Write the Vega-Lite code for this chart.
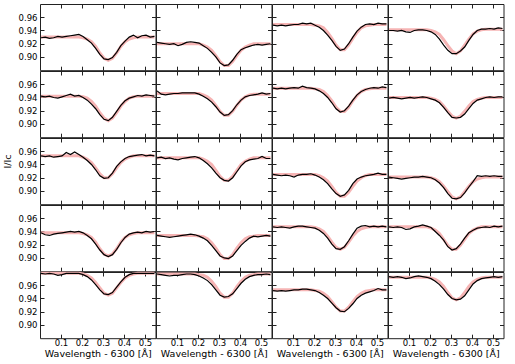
{
"$schema":"https://vega.github.io/schema/vega-lite/v6.json",
"background":"white",
"padding":{"left":1,"top":3,"right":5,"bottom":5},
"spacing":0,
"bounds":"flush",
"columns":4,
"data":{"values":[
{"p":11,"x":0.005,"o":0.929,"f":0.930},{"p":11,"x":0.025,"o":0.930,"f":0.930},{"p":11,"x":0.045,"o":0.928,"f":0.930},{"p":11,"x":0.065,"o":0.929,"f":0.930},{"p":11,"x":0.085,"o":0.931,"f":0.930},{"p":11,"x":0.105,"o":0.930,"f":0.930},{"p":11,"x":0.125,"o":0.931,"f":0.930},{"p":11,"x":0.145,"o":0.932,"f":0.930},{"p":11,"x":0.165,"o":0.933,"f":0.930},{"p":11,"x":0.185,"o":0.934,"f":0.930},{"p":11,"x":0.205,"o":0.931,"f":0.929},{"p":11,"x":0.225,"o":0.926,"f":0.927},{"p":11,"x":0.245,"o":0.921,"f":0.923},{"p":11,"x":0.265,"o":0.913,"f":0.916},{"p":11,"x":0.285,"o":0.904,"f":0.906},{"p":11,"x":0.305,"o":0.897,"f":0.898},{"p":11,"x":0.325,"o":0.896,"f":0.895},{"p":11,"x":0.345,"o":0.899,"f":0.898},{"p":11,"x":0.365,"o":0.907,"f":0.906},{"p":11,"x":0.385,"o":0.917,"f":0.916},{"p":11,"x":0.405,"o":0.924,"f":0.923},{"p":11,"x":0.425,"o":0.930,"f":0.927},{"p":11,"x":0.445,"o":0.933,"f":0.929},{"p":11,"x":0.465,"o":0.929,"f":0.930},{"p":11,"x":0.485,"o":0.932,"f":0.930},{"p":11,"x":0.505,"o":0.933,"f":0.930},{"p":11,"x":0.525,"o":0.930,"f":0.930},{"p":11,"x":0.545,"o":0.931,"f":0.930},
{"p":12,"x":0.005,"o":0.922,"f":0.920},{"p":12,"x":0.025,"o":0.921,"f":0.920},{"p":12,"x":0.045,"o":0.920,"f":0.920},{"p":12,"x":0.065,"o":0.919,"f":0.920},{"p":12,"x":0.085,"o":0.920,"f":0.920},{"p":12,"x":0.105,"o":0.917,"f":0.920},{"p":12,"x":0.125,"o":0.919,"f":0.920},{"p":12,"x":0.145,"o":0.922,"f":0.920},{"p":12,"x":0.165,"o":0.923,"f":0.920},{"p":12,"x":0.185,"o":0.922,"f":0.920},{"p":12,"x":0.205,"o":0.921,"f":0.920},{"p":12,"x":0.225,"o":0.917,"f":0.918},{"p":12,"x":0.245,"o":0.913,"f":0.915},{"p":12,"x":0.265,"o":0.907,"f":0.910},{"p":12,"x":0.285,"o":0.900,"f":0.902},{"p":12,"x":0.305,"o":0.891,"f":0.893},{"p":12,"x":0.325,"o":0.887,"f":0.887},{"p":12,"x":0.345,"o":0.888,"f":0.887},{"p":12,"x":0.365,"o":0.895,"f":0.893},{"p":12,"x":0.385,"o":0.904,"f":0.902},{"p":12,"x":0.405,"o":0.911,"f":0.910},{"p":12,"x":0.425,"o":0.914,"f":0.915},{"p":12,"x":0.445,"o":0.916,"f":0.918},{"p":12,"x":0.465,"o":0.918,"f":0.920},{"p":12,"x":0.485,"o":0.919,"f":0.920},{"p":12,"x":0.505,"o":0.918,"f":0.920},{"p":12,"x":0.525,"o":0.919,"f":0.920},{"p":12,"x":0.545,"o":0.920,"f":0.920},
{"p":13,"x":0.005,"o":0.948,"f":0.949},{"p":13,"x":0.025,"o":0.947,"f":0.949},{"p":13,"x":0.045,"o":0.948,"f":0.949},{"p":13,"x":0.065,"o":0.947,"f":0.949},{"p":13,"x":0.085,"o":0.948,"f":0.949},{"p":13,"x":0.105,"o":0.949,"f":0.949},{"p":13,"x":0.125,"o":0.949,"f":0.949},{"p":13,"x":0.145,"o":0.951,"f":0.949},{"p":13,"x":0.165,"o":0.950,"f":0.949},{"p":13,"x":0.185,"o":0.951,"f":0.949},{"p":13,"x":0.205,"o":0.948,"f":0.948},{"p":13,"x":0.225,"o":0.945,"f":0.947},{"p":13,"x":0.245,"o":0.940,"f":0.944},{"p":13,"x":0.265,"o":0.933,"f":0.937},{"p":13,"x":0.285,"o":0.925,"f":0.928},{"p":13,"x":0.305,"o":0.916,"f":0.918},{"p":13,"x":0.325,"o":0.910,"f":0.911},{"p":13,"x":0.345,"o":0.912,"f":0.911},{"p":13,"x":0.365,"o":0.920,"f":0.918},{"p":13,"x":0.385,"o":0.930,"f":0.928},{"p":13,"x":0.405,"o":0.939,"f":0.937},{"p":13,"x":0.425,"o":0.945,"f":0.944},{"p":13,"x":0.445,"o":0.949,"f":0.947},{"p":13,"x":0.465,"o":0.950,"f":0.948},{"p":13,"x":0.485,"o":0.949,"f":0.949},{"p":13,"x":0.505,"o":0.951,"f":0.949},{"p":13,"x":0.525,"o":0.950,"f":0.949},{"p":13,"x":0.545,"o":0.950,"f":0.949},
{"p":14,"x":0.005,"o":0.940,"f":0.941},{"p":14,"x":0.025,"o":0.940,"f":0.941},{"p":14,"x":0.045,"o":0.939,"f":0.941},{"p":14,"x":0.065,"o":0.940,"f":0.941},{"p":14,"x":0.085,"o":0.938,"f":0.941},{"p":14,"x":0.105,"o":0.937,"f":0.941},{"p":14,"x":0.125,"o":0.940,"f":0.941},{"p":14,"x":0.145,"o":0.941,"f":0.941},{"p":14,"x":0.165,"o":0.941,"f":0.941},{"p":14,"x":0.185,"o":0.940,"f":0.941},{"p":14,"x":0.205,"o":0.938,"f":0.940},{"p":14,"x":0.225,"o":0.934,"f":0.938},{"p":14,"x":0.245,"o":0.927,"f":0.934},{"p":14,"x":0.265,"o":0.918,"f":0.926},{"p":14,"x":0.285,"o":0.910,"f":0.917},{"p":14,"x":0.305,"o":0.905,"f":0.909},{"p":14,"x":0.325,"o":0.905,"f":0.905},{"p":14,"x":0.345,"o":0.909,"f":0.909},{"p":14,"x":0.365,"o":0.915,"f":0.918},{"p":14,"x":0.385,"o":0.925,"f":0.927},{"p":14,"x":0.405,"o":0.934,"f":0.935},{"p":14,"x":0.425,"o":0.940,"f":0.939},{"p":14,"x":0.445,"o":0.942,"f":0.941},{"p":14,"x":0.465,"o":0.942,"f":0.942},{"p":14,"x":0.485,"o":0.943,"f":0.942},{"p":14,"x":0.505,"o":0.942,"f":0.942},{"p":14,"x":0.525,"o":0.944,"f":0.942},{"p":14,"x":0.545,"o":0.943,"f":0.942},
{"p":21,"x":0.005,"o":0.942,"f":0.942},{"p":21,"x":0.025,"o":0.941,"f":0.942},{"p":21,"x":0.045,"o":0.942,"f":0.942},{"p":21,"x":0.065,"o":0.940,"f":0.942},{"p":21,"x":0.085,"o":0.939,"f":0.942},{"p":21,"x":0.105,"o":0.941,"f":0.942},{"p":21,"x":0.125,"o":0.943,"f":0.942},{"p":21,"x":0.145,"o":0.945,"f":0.942},{"p":21,"x":0.165,"o":0.942,"f":0.942},{"p":21,"x":0.185,"o":0.943,"f":0.942},{"p":21,"x":0.205,"o":0.940,"f":0.941},{"p":21,"x":0.225,"o":0.936,"f":0.939},{"p":21,"x":0.245,"o":0.930,"f":0.934},{"p":21,"x":0.265,"o":0.923,"f":0.927},{"p":21,"x":0.285,"o":0.914,"f":0.917},{"p":21,"x":0.305,"o":0.907,"f":0.909},{"p":21,"x":0.325,"o":0.905,"f":0.905},{"p":21,"x":0.345,"o":0.910,"f":0.909},{"p":21,"x":0.365,"o":0.919,"f":0.917},{"p":21,"x":0.385,"o":0.928,"f":0.927},{"p":21,"x":0.405,"o":0.935,"f":0.934},{"p":21,"x":0.425,"o":0.939,"f":0.939},{"p":21,"x":0.445,"o":0.941,"f":0.941},{"p":21,"x":0.465,"o":0.943,"f":0.942},{"p":21,"x":0.485,"o":0.942,"f":0.942},{"p":21,"x":0.505,"o":0.944,"f":0.942},{"p":21,"x":0.525,"o":0.943,"f":0.942},{"p":21,"x":0.545,"o":0.942,"f":0.942},
{"p":22,"x":0.005,"o":0.950,"f":0.946},{"p":22,"x":0.025,"o":0.945,"f":0.946},{"p":22,"x":0.045,"o":0.944,"f":0.946},{"p":22,"x":0.065,"o":0.945,"f":0.946},{"p":22,"x":0.085,"o":0.946,"f":0.946},{"p":22,"x":0.105,"o":0.946,"f":0.946},{"p":22,"x":0.125,"o":0.947,"f":0.946},{"p":22,"x":0.145,"o":0.947,"f":0.946},{"p":22,"x":0.165,"o":0.947,"f":0.946},{"p":22,"x":0.185,"o":0.947,"f":0.946},{"p":22,"x":0.205,"o":0.945,"f":0.946},{"p":22,"x":0.225,"o":0.942,"f":0.944},{"p":22,"x":0.245,"o":0.938,"f":0.941},{"p":22,"x":0.265,"o":0.933,"f":0.936},{"p":22,"x":0.285,"o":0.926,"f":0.928},{"p":22,"x":0.305,"o":0.918,"f":0.919},{"p":22,"x":0.325,"o":0.913,"f":0.913},{"p":22,"x":0.345,"o":0.914,"f":0.913},{"p":22,"x":0.365,"o":0.920,"f":0.919},{"p":22,"x":0.385,"o":0.929,"f":0.928},{"p":22,"x":0.405,"o":0.936,"f":0.936},{"p":22,"x":0.425,"o":0.941,"f":0.941},{"p":22,"x":0.445,"o":0.943,"f":0.944},{"p":22,"x":0.465,"o":0.944,"f":0.945},{"p":22,"x":0.485,"o":0.945,"f":0.945},{"p":22,"x":0.505,"o":0.947,"f":0.945},{"p":22,"x":0.525,"o":0.945,"f":0.945},{"p":22,"x":0.545,"o":0.946,"f":0.945},
{"p":23,"x":0.005,"o":0.954,"f":0.954},{"p":23,"x":0.025,"o":0.953,"f":0.954},{"p":23,"x":0.045,"o":0.954,"f":0.954},{"p":23,"x":0.065,"o":0.953,"f":0.954},{"p":23,"x":0.085,"o":0.954,"f":0.954},{"p":23,"x":0.105,"o":0.955,"f":0.954},{"p":23,"x":0.125,"o":0.954,"f":0.954},{"p":23,"x":0.145,"o":0.957,"f":0.954},{"p":23,"x":0.165,"o":0.955,"f":0.954},{"p":23,"x":0.185,"o":0.954,"f":0.954},{"p":23,"x":0.205,"o":0.953,"f":0.953},{"p":23,"x":0.225,"o":0.950,"f":0.952},{"p":23,"x":0.245,"o":0.946,"f":0.949},{"p":23,"x":0.265,"o":0.940,"f":0.943},{"p":23,"x":0.285,"o":0.932,"f":0.935},{"p":23,"x":0.305,"o":0.923,"f":0.925},{"p":23,"x":0.325,"o":0.918,"f":0.919},{"p":23,"x":0.345,"o":0.920,"f":0.919},{"p":23,"x":0.365,"o":0.927,"f":0.925},{"p":23,"x":0.385,"o":0.936,"f":0.935},{"p":23,"x":0.405,"o":0.944,"f":0.943},{"p":23,"x":0.425,"o":0.949,"f":0.949},{"p":23,"x":0.445,"o":0.952,"f":0.952},{"p":23,"x":0.465,"o":0.954,"f":0.953},{"p":23,"x":0.485,"o":0.955,"f":0.954},{"p":23,"x":0.505,"o":0.954,"f":0.954},{"p":23,"x":0.525,"o":0.956,"f":0.954},{"p":23,"x":0.545,"o":0.955,"f":0.954},
{"p":24,"x":0.005,"o":0.939,"f":0.940},{"p":24,"x":0.025,"o":0.940,"f":0.940},{"p":24,"x":0.045,"o":0.939,"f":0.940},{"p":24,"x":0.065,"o":0.938,"f":0.940},{"p":24,"x":0.085,"o":0.939,"f":0.940},{"p":24,"x":0.105,"o":0.940,"f":0.940},{"p":24,"x":0.125,"o":0.939,"f":0.940},{"p":24,"x":0.145,"o":0.940,"f":0.940},{"p":24,"x":0.165,"o":0.941,"f":0.940},{"p":24,"x":0.185,"o":0.940,"f":0.940},{"p":24,"x":0.205,"o":0.938,"f":0.939},{"p":24,"x":0.225,"o":0.936,"f":0.937},{"p":24,"x":0.245,"o":0.932,"f":0.934},{"p":24,"x":0.265,"o":0.925,"f":0.927},{"p":24,"x":0.285,"o":0.917,"f":0.919},{"p":24,"x":0.305,"o":0.910,"f":0.912},{"p":24,"x":0.325,"o":0.909,"f":0.909},{"p":24,"x":0.345,"o":0.910,"f":0.912},{"p":24,"x":0.365,"o":0.915,"f":0.919},{"p":24,"x":0.385,"o":0.923,"f":0.927},{"p":24,"x":0.405,"o":0.931,"f":0.934},{"p":24,"x":0.425,"o":0.936,"f":0.937},{"p":24,"x":0.445,"o":0.938,"f":0.939},{"p":24,"x":0.465,"o":0.940,"f":0.940},{"p":24,"x":0.485,"o":0.941,"f":0.940},{"p":24,"x":0.505,"o":0.940,"f":0.940},{"p":24,"x":0.525,"o":0.941,"f":0.940},{"p":24,"x":0.545,"o":0.941,"f":0.940},
{"p":31,"x":0.005,"o":0.953,"f":0.953},{"p":31,"x":0.025,"o":0.952,"f":0.953},{"p":31,"x":0.045,"o":0.953,"f":0.953},{"p":31,"x":0.065,"o":0.951,"f":0.953},{"p":31,"x":0.085,"o":0.952,"f":0.953},{"p":31,"x":0.105,"o":0.953,"f":0.953},{"p":31,"x":0.125,"o":0.958,"f":0.953},{"p":31,"x":0.145,"o":0.955,"f":0.953},{"p":31,"x":0.165,"o":0.959,"f":0.953},{"p":31,"x":0.185,"o":0.955,"f":0.953},{"p":31,"x":0.205,"o":0.951,"f":0.951},{"p":31,"x":0.225,"o":0.946,"f":0.948},{"p":31,"x":0.245,"o":0.940,"f":0.943},{"p":31,"x":0.265,"o":0.932,"f":0.935},{"p":31,"x":0.285,"o":0.923,"f":0.926},{"p":31,"x":0.305,"o":0.919,"f":0.920},{"p":31,"x":0.325,"o":0.920,"f":0.920},{"p":31,"x":0.345,"o":0.927,"f":0.926},{"p":31,"x":0.365,"o":0.937,"f":0.935},{"p":31,"x":0.385,"o":0.944,"f":0.943},{"p":31,"x":0.405,"o":0.949,"f":0.948},{"p":31,"x":0.425,"o":0.952,"f":0.951},{"p":31,"x":0.445,"o":0.953,"f":0.953},{"p":31,"x":0.465,"o":0.954,"f":0.953},{"p":31,"x":0.485,"o":0.955,"f":0.953},{"p":31,"x":0.505,"o":0.953,"f":0.953},{"p":31,"x":0.525,"o":0.954,"f":0.953},{"p":31,"x":0.545,"o":0.953,"f":0.953},
{"p":32,"x":0.005,"o":0.950,"f":0.950},{"p":32,"x":0.025,"o":0.951,"f":0.950},{"p":32,"x":0.045,"o":0.949,"f":0.950},{"p":32,"x":0.065,"o":0.950,"f":0.950},{"p":32,"x":0.085,"o":0.948,"f":0.950},{"p":32,"x":0.105,"o":0.947,"f":0.950},{"p":32,"x":0.125,"o":0.949,"f":0.950},{"p":32,"x":0.145,"o":0.950,"f":0.950},{"p":32,"x":0.165,"o":0.951,"f":0.950},{"p":32,"x":0.185,"o":0.952,"f":0.950},{"p":32,"x":0.205,"o":0.950,"f":0.950},{"p":32,"x":0.225,"o":0.946,"f":0.948},{"p":32,"x":0.245,"o":0.941,"f":0.945},{"p":32,"x":0.265,"o":0.935,"f":0.940},{"p":32,"x":0.285,"o":0.927,"f":0.931},{"p":32,"x":0.305,"o":0.920,"f":0.922},{"p":32,"x":0.325,"o":0.916,"f":0.916},{"p":32,"x":0.345,"o":0.915,"f":0.916},{"p":32,"x":0.365,"o":0.920,"f":0.922},{"p":32,"x":0.385,"o":0.929,"f":0.931},{"p":32,"x":0.405,"o":0.938,"f":0.940},{"p":32,"x":0.425,"o":0.944,"f":0.945},{"p":32,"x":0.445,"o":0.947,"f":0.948},{"p":32,"x":0.465,"o":0.948,"f":0.950},{"p":32,"x":0.485,"o":0.949,"f":0.950},{"p":32,"x":0.505,"o":0.952,"f":0.950},{"p":32,"x":0.525,"o":0.949,"f":0.950},{"p":32,"x":0.545,"o":0.949,"f":0.950},
{"p":33,"x":0.005,"o":0.925,"f":0.925},{"p":33,"x":0.025,"o":0.924,"f":0.925},{"p":33,"x":0.045,"o":0.923,"f":0.925},{"p":33,"x":0.065,"o":0.924,"f":0.925},{"p":33,"x":0.085,"o":0.923,"f":0.925},{"p":33,"x":0.105,"o":0.921,"f":0.925},{"p":33,"x":0.125,"o":0.924,"f":0.925},{"p":33,"x":0.145,"o":0.925,"f":0.925},{"p":33,"x":0.165,"o":0.925,"f":0.925},{"p":33,"x":0.185,"o":0.926,"f":0.925},{"p":33,"x":0.205,"o":0.924,"f":0.925},{"p":33,"x":0.225,"o":0.921,"f":0.923},{"p":33,"x":0.245,"o":0.917,"f":0.920},{"p":33,"x":0.265,"o":0.911,"f":0.915},{"p":33,"x":0.285,"o":0.903,"f":0.907},{"p":33,"x":0.305,"o":0.896,"f":0.898},{"p":33,"x":0.325,"o":0.892,"f":0.892},{"p":33,"x":0.345,"o":0.894,"f":0.892},{"p":33,"x":0.365,"o":0.901,"f":0.898},{"p":33,"x":0.385,"o":0.911,"f":0.907},{"p":33,"x":0.405,"o":0.918,"f":0.915},{"p":33,"x":0.425,"o":0.921,"f":0.920},{"p":33,"x":0.445,"o":0.923,"f":0.923},{"p":33,"x":0.465,"o":0.924,"f":0.925},{"p":33,"x":0.485,"o":0.925,"f":0.925},{"p":33,"x":0.505,"o":0.927,"f":0.925},{"p":33,"x":0.525,"o":0.925,"f":0.925},{"p":33,"x":0.545,"o":0.925,"f":0.925},
{"p":34,"x":0.005,"o":0.921,"f":0.921},{"p":34,"x":0.025,"o":0.920,"f":0.921},{"p":34,"x":0.045,"o":0.919,"f":0.921},{"p":34,"x":0.065,"o":0.918,"f":0.921},{"p":34,"x":0.085,"o":0.919,"f":0.921},{"p":34,"x":0.105,"o":0.920,"f":0.921},{"p":34,"x":0.125,"o":0.921,"f":0.921},{"p":34,"x":0.145,"o":0.921,"f":0.921},{"p":34,"x":0.165,"o":0.922,"f":0.921},{"p":34,"x":0.185,"o":0.921,"f":0.921},{"p":34,"x":0.205,"o":0.920,"f":0.920},{"p":34,"x":0.225,"o":0.917,"f":0.918},{"p":34,"x":0.245,"o":0.912,"f":0.914},{"p":34,"x":0.265,"o":0.905,"f":0.907},{"p":34,"x":0.285,"o":0.896,"f":0.899},{"p":34,"x":0.305,"o":0.889,"f":0.891},{"p":34,"x":0.325,"o":0.888,"f":0.888},{"p":34,"x":0.345,"o":0.890,"f":0.891},{"p":34,"x":0.365,"o":0.897,"f":0.899},{"p":34,"x":0.385,"o":0.906,"f":0.907},{"p":34,"x":0.405,"o":0.914,"f":0.914},{"p":34,"x":0.425,"o":0.923,"f":0.918},{"p":34,"x":0.445,"o":0.922,"f":0.920},{"p":34,"x":0.465,"o":0.923,"f":0.921},{"p":34,"x":0.485,"o":0.922,"f":0.921},{"p":34,"x":0.505,"o":0.923,"f":0.921},{"p":34,"x":0.525,"o":0.922,"f":0.921},{"p":34,"x":0.545,"o":0.922,"f":0.921},
{"p":41,"x":0.005,"o":0.938,"f":0.938},{"p":41,"x":0.025,"o":0.935,"f":0.938},{"p":41,"x":0.045,"o":0.934,"f":0.938},{"p":41,"x":0.065,"o":0.936,"f":0.938},{"p":41,"x":0.085,"o":0.937,"f":0.938},{"p":41,"x":0.105,"o":0.938,"f":0.938},{"p":41,"x":0.125,"o":0.939,"f":0.938},{"p":41,"x":0.145,"o":0.940,"f":0.938},{"p":41,"x":0.165,"o":0.939,"f":0.938},{"p":41,"x":0.185,"o":0.940,"f":0.938},{"p":41,"x":0.205,"o":0.938,"f":0.937},{"p":41,"x":0.225,"o":0.934,"f":0.935},{"p":41,"x":0.245,"o":0.929,"f":0.931},{"p":41,"x":0.265,"o":0.921,"f":0.924},{"p":41,"x":0.285,"o":0.912,"f":0.914},{"p":41,"x":0.305,"o":0.905,"f":0.906},{"p":41,"x":0.325,"o":0.902,"f":0.903},{"p":41,"x":0.345,"o":0.905,"f":0.906},{"p":41,"x":0.365,"o":0.913,"f":0.914},{"p":41,"x":0.385,"o":0.923,"f":0.924},{"p":41,"x":0.405,"o":0.931,"f":0.931},{"p":41,"x":0.425,"o":0.936,"f":0.935},{"p":41,"x":0.445,"o":0.938,"f":0.937},{"p":41,"x":0.465,"o":0.939,"f":0.938},{"p":41,"x":0.485,"o":0.938,"f":0.938},{"p":41,"x":0.505,"o":0.940,"f":0.938},{"p":41,"x":0.525,"o":0.939,"f":0.938},{"p":41,"x":0.545,"o":0.940,"f":0.938},
{"p":42,"x":0.005,"o":0.934,"f":0.934},{"p":42,"x":0.025,"o":0.933,"f":0.934},{"p":42,"x":0.045,"o":0.932,"f":0.934},{"p":42,"x":0.065,"o":0.931,"f":0.934},{"p":42,"x":0.085,"o":0.932,"f":0.934},{"p":42,"x":0.105,"o":0.933,"f":0.934},{"p":42,"x":0.125,"o":0.934,"f":0.934},{"p":42,"x":0.145,"o":0.935,"f":0.934},{"p":42,"x":0.165,"o":0.936,"f":0.934},{"p":42,"x":0.185,"o":0.935,"f":0.934},{"p":42,"x":0.205,"o":0.933,"f":0.933},{"p":42,"x":0.225,"o":0.930,"f":0.932},{"p":42,"x":0.245,"o":0.926,"f":0.929},{"p":42,"x":0.265,"o":0.919,"f":0.923},{"p":42,"x":0.285,"o":0.911,"f":0.915},{"p":42,"x":0.305,"o":0.903,"f":0.905},{"p":42,"x":0.325,"o":0.900,"f":0.899},{"p":42,"x":0.345,"o":0.899,"f":0.899},{"p":42,"x":0.365,"o":0.903,"f":0.905},{"p":42,"x":0.385,"o":0.911,"f":0.915},{"p":42,"x":0.405,"o":0.919,"f":0.923},{"p":42,"x":0.425,"o":0.925,"f":0.929},{"p":42,"x":0.445,"o":0.930,"f":0.932},{"p":42,"x":0.465,"o":0.933,"f":0.933},{"p":42,"x":0.485,"o":0.932,"f":0.934},{"p":42,"x":0.505,"o":0.933,"f":0.934},{"p":42,"x":0.525,"o":0.934,"f":0.934},{"p":42,"x":0.545,"o":0.933,"f":0.934},
{"p":43,"x":0.005,"o":0.947,"f":0.947},{"p":43,"x":0.025,"o":0.946,"f":0.947},{"p":43,"x":0.045,"o":0.947,"f":0.947},{"p":43,"x":0.065,"o":0.946,"f":0.947},{"p":43,"x":0.085,"o":0.945,"f":0.947},{"p":43,"x":0.105,"o":0.947,"f":0.947},{"p":43,"x":0.125,"o":0.948,"f":0.947},{"p":43,"x":0.145,"o":0.948,"f":0.947},{"p":43,"x":0.165,"o":0.947,"f":0.947},{"p":43,"x":0.185,"o":0.946,"f":0.947},{"p":43,"x":0.205,"o":0.945,"f":0.946},{"p":43,"x":0.225,"o":0.942,"f":0.944},{"p":43,"x":0.245,"o":0.937,"f":0.940},{"p":43,"x":0.265,"o":0.930,"f":0.933},{"p":43,"x":0.285,"o":0.921,"f":0.924},{"p":43,"x":0.305,"o":0.914,"f":0.916},{"p":43,"x":0.325,"o":0.913,"f":0.913},{"p":43,"x":0.345,"o":0.917,"f":0.916},{"p":43,"x":0.365,"o":0.926,"f":0.924},{"p":43,"x":0.385,"o":0.936,"f":0.933},{"p":43,"x":0.405,"o":0.945,"f":0.940},{"p":43,"x":0.425,"o":0.948,"f":0.944},{"p":43,"x":0.445,"o":0.949,"f":0.946},{"p":43,"x":0.465,"o":0.947,"f":0.947},{"p":43,"x":0.485,"o":0.948,"f":0.947},{"p":43,"x":0.505,"o":0.947,"f":0.947},{"p":43,"x":0.525,"o":0.948,"f":0.947},{"p":43,"x":0.545,"o":0.947,"f":0.947},
{"p":44,"x":0.005,"o":0.947,"f":0.947},{"p":44,"x":0.025,"o":0.946,"f":0.947},{"p":44,"x":0.045,"o":0.947,"f":0.947},{"p":44,"x":0.065,"o":0.946,"f":0.947},{"p":44,"x":0.085,"o":0.943,"f":0.947},{"p":44,"x":0.105,"o":0.944,"f":0.947},{"p":44,"x":0.125,"o":0.947,"f":0.947},{"p":44,"x":0.145,"o":0.948,"f":0.947},{"p":44,"x":0.165,"o":0.950,"f":0.947},{"p":44,"x":0.185,"o":0.948,"f":0.947},{"p":44,"x":0.205,"o":0.946,"f":0.945},{"p":44,"x":0.225,"o":0.940,"f":0.942},{"p":44,"x":0.245,"o":0.934,"f":0.937},{"p":44,"x":0.265,"o":0.927,"f":0.928},{"p":44,"x":0.285,"o":0.917,"f":0.919},{"p":44,"x":0.305,"o":0.912,"f":0.913},{"p":44,"x":0.325,"o":0.914,"f":0.913},{"p":44,"x":0.345,"o":0.921,"f":0.919},{"p":44,"x":0.365,"o":0.930,"f":0.928},{"p":44,"x":0.385,"o":0.938,"f":0.937},{"p":44,"x":0.405,"o":0.942,"f":0.942},{"p":44,"x":0.425,"o":0.945,"f":0.945},{"p":44,"x":0.445,"o":0.946,"f":0.947},{"p":44,"x":0.465,"o":0.947,"f":0.947},{"p":44,"x":0.485,"o":0.946,"f":0.947},{"p":44,"x":0.505,"o":0.948,"f":0.947},{"p":44,"x":0.525,"o":0.947,"f":0.947},{"p":44,"x":0.545,"o":0.948,"f":0.947},
{"p":51,"x":0.005,"o":0.978,"f":0.978},{"p":51,"x":0.025,"o":0.977,"f":0.978},{"p":51,"x":0.045,"o":0.978,"f":0.978},{"p":51,"x":0.065,"o":0.977,"f":0.978},{"p":51,"x":0.085,"o":0.975,"f":0.978},{"p":51,"x":0.105,"o":0.976,"f":0.978},{"p":51,"x":0.125,"o":0.978,"f":0.978},{"p":51,"x":0.145,"o":0.978,"f":0.978},{"p":51,"x":0.165,"o":0.978,"f":0.978},{"p":51,"x":0.185,"o":0.978,"f":0.978},{"p":51,"x":0.205,"o":0.976,"f":0.977},{"p":51,"x":0.225,"o":0.973,"f":0.975},{"p":51,"x":0.245,"o":0.968,"f":0.971},{"p":51,"x":0.265,"o":0.961,"f":0.964},{"p":51,"x":0.285,"o":0.953,"f":0.956},{"p":51,"x":0.305,"o":0.947,"f":0.948},{"p":51,"x":0.325,"o":0.946,"f":0.945},{"p":51,"x":0.345,"o":0.949,"f":0.948},{"p":51,"x":0.365,"o":0.957,"f":0.956},{"p":51,"x":0.385,"o":0.965,"f":0.964},{"p":51,"x":0.405,"o":0.972,"f":0.971},{"p":51,"x":0.425,"o":0.976,"f":0.975},{"p":51,"x":0.445,"o":0.978,"f":0.977},{"p":51,"x":0.465,"o":0.978,"f":0.978},{"p":51,"x":0.485,"o":0.978,"f":0.978},{"p":51,"x":0.505,"o":0.978,"f":0.978},{"p":51,"x":0.525,"o":0.978,"f":0.978},{"p":51,"x":0.545,"o":0.978,"f":0.978},
{"p":52,"x":0.005,"o":0.977,"f":0.977},{"p":52,"x":0.025,"o":0.976,"f":0.977},{"p":52,"x":0.045,"o":0.975,"f":0.977},{"p":52,"x":0.065,"o":0.974,"f":0.977},{"p":52,"x":0.085,"o":0.975,"f":0.977},{"p":52,"x":0.105,"o":0.975,"f":0.977},{"p":52,"x":0.125,"o":0.976,"f":0.977},{"p":52,"x":0.145,"o":0.977,"f":0.977},{"p":52,"x":0.165,"o":0.977,"f":0.977},{"p":52,"x":0.185,"o":0.976,"f":0.977},{"p":52,"x":0.205,"o":0.974,"f":0.976},{"p":52,"x":0.225,"o":0.971,"f":0.975},{"p":52,"x":0.245,"o":0.967,"f":0.972},{"p":52,"x":0.265,"o":0.961,"f":0.966},{"p":52,"x":0.285,"o":0.953,"f":0.958},{"p":52,"x":0.305,"o":0.945,"f":0.948},{"p":52,"x":0.325,"o":0.942,"f":0.942},{"p":52,"x":0.345,"o":0.943,"f":0.942},{"p":52,"x":0.365,"o":0.947,"f":0.948},{"p":52,"x":0.385,"o":0.955,"f":0.958},{"p":52,"x":0.405,"o":0.963,"f":0.966},{"p":52,"x":0.425,"o":0.969,"f":0.972},{"p":52,"x":0.445,"o":0.973,"f":0.975},{"p":52,"x":0.465,"o":0.975,"f":0.976},{"p":52,"x":0.485,"o":0.976,"f":0.977},{"p":52,"x":0.505,"o":0.976,"f":0.977},{"p":52,"x":0.525,"o":0.977,"f":0.977},{"p":52,"x":0.545,"o":0.976,"f":0.977},
{"p":53,"x":0.005,"o":0.952,"f":0.953},{"p":53,"x":0.025,"o":0.951,"f":0.953},{"p":53,"x":0.045,"o":0.952,"f":0.953},{"p":53,"x":0.065,"o":0.951,"f":0.953},{"p":53,"x":0.085,"o":0.952,"f":0.953},{"p":53,"x":0.105,"o":0.953,"f":0.953},{"p":53,"x":0.125,"o":0.953,"f":0.953},{"p":53,"x":0.145,"o":0.954,"f":0.953},{"p":53,"x":0.165,"o":0.954,"f":0.953},{"p":53,"x":0.185,"o":0.953,"f":0.953},{"p":53,"x":0.205,"o":0.952,"f":0.952},{"p":53,"x":0.225,"o":0.949,"f":0.951},{"p":53,"x":0.245,"o":0.945,"f":0.948},{"p":53,"x":0.265,"o":0.940,"f":0.943},{"p":53,"x":0.285,"o":0.933,"f":0.935},{"p":53,"x":0.305,"o":0.926,"f":0.927},{"p":53,"x":0.325,"o":0.921,"f":0.921},{"p":53,"x":0.345,"o":0.920,"f":0.921},{"p":53,"x":0.365,"o":0.925,"f":0.927},{"p":53,"x":0.385,"o":0.932,"f":0.935},{"p":53,"x":0.405,"o":0.940,"f":0.943},{"p":53,"x":0.425,"o":0.945,"f":0.948},{"p":53,"x":0.445,"o":0.948,"f":0.951},{"p":53,"x":0.465,"o":0.950,"f":0.952},{"p":53,"x":0.485,"o":0.952,"f":0.953},{"p":53,"x":0.505,"o":0.955,"f":0.953},{"p":53,"x":0.525,"o":0.953,"f":0.953},{"p":53,"x":0.545,"o":0.953,"f":0.953},
{"p":54,"x":0.005,"o":0.973,"f":0.972},{"p":54,"x":0.025,"o":0.972,"f":0.972},{"p":54,"x":0.045,"o":0.973,"f":0.972},{"p":54,"x":0.065,"o":0.972,"f":0.972},{"p":54,"x":0.085,"o":0.970,"f":0.972},{"p":54,"x":0.105,"o":0.971,"f":0.972},{"p":54,"x":0.125,"o":0.973,"f":0.972},{"p":54,"x":0.145,"o":0.974,"f":0.972},{"p":54,"x":0.165,"o":0.973,"f":0.972},{"p":54,"x":0.185,"o":0.972,"f":0.972},{"p":54,"x":0.205,"o":0.970,"f":0.971},{"p":54,"x":0.225,"o":0.966,"f":0.969},{"p":54,"x":0.245,"o":0.961,"f":0.965},{"p":54,"x":0.265,"o":0.954,"f":0.958},{"p":54,"x":0.285,"o":0.946,"f":0.949},{"p":54,"x":0.305,"o":0.940,"f":0.941},{"p":54,"x":0.325,"o":0.938,"f":0.938},{"p":54,"x":0.345,"o":0.939,"f":0.941},{"p":54,"x":0.365,"o":0.944,"f":0.949},{"p":54,"x":0.385,"o":0.953,"f":0.958},{"p":54,"x":0.405,"o":0.962,"f":0.965},{"p":54,"x":0.425,"o":0.967,"f":0.969},{"p":54,"x":0.445,"o":0.970,"f":0.971},{"p":54,"x":0.465,"o":0.971,"f":0.972},{"p":54,"x":0.485,"o":0.972,"f":0.972},{"p":54,"x":0.505,"o":0.973,"f":0.972},{"p":54,"x":0.525,"o":0.972,"f":0.972},{"p":54,"x":0.545,"o":0.973,"f":0.972}
]},
"concat":[
{"width":115.5,"height":66.2,"transform":[{"filter":"datum.p==11"}],"layer":[
 {"mark":{"type":"line","color":"#f6b4b4","strokeWidth":3},"encoding":{"x":{"field":"x","type":"quantitative","scale":{"domain":[0,0.545]},"axis":{"orient":"top","values":[0.1,0.2,0.3,0.4,0.5],"labels":false,"title":null}},"y":{"field":"f","type":"quantitative","scale":{"domain":[0.88,0.98]},"axis":{"orient":"right","values":[0.9,0.92,0.94,0.96],"labels":false,"title":null}}}},
 {"mark":{"type":"line","color":"black","strokeWidth":1.2},"encoding":{"x":{"field":"x","type":"quantitative","axis":{"orient":"bottom","values":[0.1,0.2,0.3,0.4,0.5],"labels":false,"title":null}},"y":{"field":"o","type":"quantitative","axis":{"orient":"left","values":[0.9,0.92,0.94,0.96],"labels":true,"format":".2f","title":null}}}}
],"resolve":{"axis":{"x":"independent","y":"independent"}}},
{"width":115.5,"height":66.2,"transform":[{"filter":"datum.p==12"}],"layer":[
 {"mark":{"type":"line","color":"#f6b4b4","strokeWidth":3},"encoding":{"x":{"field":"x","type":"quantitative","scale":{"domain":[0,0.545]},"axis":{"orient":"top","values":[0.1,0.2,0.3,0.4,0.5],"labels":false,"title":null}},"y":{"field":"f","type":"quantitative","scale":{"domain":[0.88,0.98]},"axis":{"orient":"right","values":[0.9,0.92,0.94,0.96],"labels":false,"title":null}}}},
 {"mark":{"type":"line","color":"black","strokeWidth":1.2},"encoding":{"x":{"field":"x","type":"quantitative","axis":{"orient":"bottom","values":[0.1,0.2,0.3,0.4,0.5],"labels":false,"title":null}},"y":{"field":"o","type":"quantitative","axis":{"orient":"left","values":[0.9,0.92,0.94,0.96],"labels":false,"title":null}}}}
],"resolve":{"axis":{"x":"independent","y":"independent"}}},
{"width":115.5,"height":66.2,"transform":[{"filter":"datum.p==13"}],"layer":[
 {"mark":{"type":"line","color":"#f6b4b4","strokeWidth":3},"encoding":{"x":{"field":"x","type":"quantitative","scale":{"domain":[0,0.545]},"axis":{"orient":"top","values":[0.1,0.2,0.3,0.4,0.5],"labels":false,"title":null}},"y":{"field":"f","type":"quantitative","scale":{"domain":[0.88,0.98]},"axis":{"orient":"right","values":[0.9,0.92,0.94,0.96],"labels":false,"title":null}}}},
 {"mark":{"type":"line","color":"black","strokeWidth":1.2},"encoding":{"x":{"field":"x","type":"quantitative","axis":{"orient":"bottom","values":[0.1,0.2,0.3,0.4,0.5],"labels":false,"title":null}},"y":{"field":"o","type":"quantitative","axis":{"orient":"left","values":[0.9,0.92,0.94,0.96],"labels":false,"title":null}}}}
],"resolve":{"axis":{"x":"independent","y":"independent"}}},
{"width":115.5,"height":66.2,"transform":[{"filter":"datum.p==14"}],"layer":[
 {"mark":{"type":"line","color":"#f6b4b4","strokeWidth":3},"encoding":{"x":{"field":"x","type":"quantitative","scale":{"domain":[0,0.545]},"axis":{"orient":"top","values":[0.1,0.2,0.3,0.4,0.5],"labels":false,"title":null}},"y":{"field":"f","type":"quantitative","scale":{"domain":[0.88,0.98]},"axis":{"orient":"right","values":[0.9,0.92,0.94,0.96],"labels":false,"title":null}}}},
 {"mark":{"type":"line","color":"black","strokeWidth":1.2},"encoding":{"x":{"field":"x","type":"quantitative","axis":{"orient":"bottom","values":[0.1,0.2,0.3,0.4,0.5],"labels":false,"title":null}},"y":{"field":"o","type":"quantitative","axis":{"orient":"left","values":[0.9,0.92,0.94,0.96],"labels":false,"title":null}}}}
],"resolve":{"axis":{"x":"independent","y":"independent"}}},
{"width":115.5,"height":66.2,"transform":[{"filter":"datum.p==21"}],"layer":[
 {"mark":{"type":"line","color":"#f6b4b4","strokeWidth":3},"encoding":{"x":{"field":"x","type":"quantitative","scale":{"domain":[0,0.545]},"axis":{"orient":"top","values":[0.1,0.2,0.3,0.4,0.5],"labels":false,"title":null}},"y":{"field":"f","type":"quantitative","scale":{"domain":[0.88,0.98]},"axis":{"orient":"right","values":[0.9,0.92,0.94,0.96],"labels":false,"title":null}}}},
 {"mark":{"type":"line","color":"black","strokeWidth":1.2},"encoding":{"x":{"field":"x","type":"quantitative","axis":{"orient":"bottom","values":[0.1,0.2,0.3,0.4,0.5],"labels":false,"title":null}},"y":{"field":"o","type":"quantitative","axis":{"orient":"left","values":[0.9,0.92,0.94,0.96],"labels":true,"format":".2f","title":null}}}}
],"resolve":{"axis":{"x":"independent","y":"independent"}}},
{"width":115.5,"height":66.2,"transform":[{"filter":"datum.p==22"}],"layer":[
 {"mark":{"type":"line","color":"#f6b4b4","strokeWidth":3},"encoding":{"x":{"field":"x","type":"quantitative","scale":{"domain":[0,0.545]},"axis":{"orient":"top","values":[0.1,0.2,0.3,0.4,0.5],"labels":false,"title":null}},"y":{"field":"f","type":"quantitative","scale":{"domain":[0.88,0.98]},"axis":{"orient":"right","values":[0.9,0.92,0.94,0.96],"labels":false,"title":null}}}},
 {"mark":{"type":"line","color":"black","strokeWidth":1.2},"encoding":{"x":{"field":"x","type":"quantitative","axis":{"orient":"bottom","values":[0.1,0.2,0.3,0.4,0.5],"labels":false,"title":null}},"y":{"field":"o","type":"quantitative","axis":{"orient":"left","values":[0.9,0.92,0.94,0.96],"labels":false,"title":null}}}}
],"resolve":{"axis":{"x":"independent","y":"independent"}}},
{"width":115.5,"height":66.2,"transform":[{"filter":"datum.p==23"}],"layer":[
 {"mark":{"type":"line","color":"#f6b4b4","strokeWidth":3},"encoding":{"x":{"field":"x","type":"quantitative","scale":{"domain":[0,0.545]},"axis":{"orient":"top","values":[0.1,0.2,0.3,0.4,0.5],"labels":false,"title":null}},"y":{"field":"f","type":"quantitative","scale":{"domain":[0.88,0.98]},"axis":{"orient":"right","values":[0.9,0.92,0.94,0.96],"labels":false,"title":null}}}},
 {"mark":{"type":"line","color":"black","strokeWidth":1.2},"encoding":{"x":{"field":"x","type":"quantitative","axis":{"orient":"bottom","values":[0.1,0.2,0.3,0.4,0.5],"labels":false,"title":null}},"y":{"field":"o","type":"quantitative","axis":{"orient":"left","values":[0.9,0.92,0.94,0.96],"labels":false,"title":null}}}}
],"resolve":{"axis":{"x":"independent","y":"independent"}}},
{"width":115.5,"height":66.2,"transform":[{"filter":"datum.p==24"}],"layer":[
 {"mark":{"type":"line","color":"#f6b4b4","strokeWidth":3},"encoding":{"x":{"field":"x","type":"quantitative","scale":{"domain":[0,0.545]},"axis":{"orient":"top","values":[0.1,0.2,0.3,0.4,0.5],"labels":false,"title":null}},"y":{"field":"f","type":"quantitative","scale":{"domain":[0.88,0.98]},"axis":{"orient":"right","values":[0.9,0.92,0.94,0.96],"labels":false,"title":null}}}},
 {"mark":{"type":"line","color":"black","strokeWidth":1.2},"encoding":{"x":{"field":"x","type":"quantitative","axis":{"orient":"bottom","values":[0.1,0.2,0.3,0.4,0.5],"labels":false,"title":null}},"y":{"field":"o","type":"quantitative","axis":{"orient":"left","values":[0.9,0.92,0.94,0.96],"labels":false,"title":null}}}}
],"resolve":{"axis":{"x":"independent","y":"independent"}}},
{"width":115.5,"height":66.2,"transform":[{"filter":"datum.p==31"}],"layer":[
 {"mark":{"type":"line","color":"#f6b4b4","strokeWidth":3},"encoding":{"x":{"field":"x","type":"quantitative","scale":{"domain":[0,0.545]},"axis":{"orient":"top","values":[0.1,0.2,0.3,0.4,0.5],"labels":false,"title":null}},"y":{"field":"f","type":"quantitative","scale":{"domain":[0.88,0.98]},"axis":{"orient":"right","values":[0.9,0.92,0.94,0.96],"labels":false,"title":null}}}},
 {"mark":{"type":"line","color":"black","strokeWidth":1.2},"encoding":{"x":{"field":"x","type":"quantitative","axis":{"orient":"bottom","values":[0.1,0.2,0.3,0.4,0.5],"labels":false,"title":null}},"y":{"field":"o","type":"quantitative","axis":{"orient":"left","values":[0.9,0.92,0.94,0.96],"labels":true,"format":".2f","title":"I/Iᴄ","titlePadding":6,"titleY":23}}}}
],"resolve":{"axis":{"x":"independent","y":"independent"}}},
{"width":115.5,"height":66.2,"transform":[{"filter":"datum.p==32"}],"layer":[
 {"mark":{"type":"line","color":"#f6b4b4","strokeWidth":3},"encoding":{"x":{"field":"x","type":"quantitative","scale":{"domain":[0,0.545]},"axis":{"orient":"top","values":[0.1,0.2,0.3,0.4,0.5],"labels":false,"title":null}},"y":{"field":"f","type":"quantitative","scale":{"domain":[0.88,0.98]},"axis":{"orient":"right","values":[0.9,0.92,0.94,0.96],"labels":false,"title":null}}}},
 {"mark":{"type":"line","color":"black","strokeWidth":1.2},"encoding":{"x":{"field":"x","type":"quantitative","axis":{"orient":"bottom","values":[0.1,0.2,0.3,0.4,0.5],"labels":false,"title":null}},"y":{"field":"o","type":"quantitative","axis":{"orient":"left","values":[0.9,0.92,0.94,0.96],"labels":false,"title":null}}}}
],"resolve":{"axis":{"x":"independent","y":"independent"}}},
{"width":115.5,"height":66.2,"transform":[{"filter":"datum.p==33"}],"layer":[
 {"mark":{"type":"line","color":"#f6b4b4","strokeWidth":3},"encoding":{"x":{"field":"x","type":"quantitative","scale":{"domain":[0,0.545]},"axis":{"orient":"top","values":[0.1,0.2,0.3,0.4,0.5],"labels":false,"title":null}},"y":{"field":"f","type":"quantitative","scale":{"domain":[0.88,0.98]},"axis":{"orient":"right","values":[0.9,0.92,0.94,0.96],"labels":false,"title":null}}}},
 {"mark":{"type":"line","color":"black","strokeWidth":1.2},"encoding":{"x":{"field":"x","type":"quantitative","axis":{"orient":"bottom","values":[0.1,0.2,0.3,0.4,0.5],"labels":false,"title":null}},"y":{"field":"o","type":"quantitative","axis":{"orient":"left","values":[0.9,0.92,0.94,0.96],"labels":false,"title":null}}}}
],"resolve":{"axis":{"x":"independent","y":"independent"}}},
{"width":115.5,"height":66.2,"transform":[{"filter":"datum.p==34"}],"layer":[
 {"mark":{"type":"line","color":"#f6b4b4","strokeWidth":3},"encoding":{"x":{"field":"x","type":"quantitative","scale":{"domain":[0,0.545]},"axis":{"orient":"top","values":[0.1,0.2,0.3,0.4,0.5],"labels":false,"title":null}},"y":{"field":"f","type":"quantitative","scale":{"domain":[0.88,0.98]},"axis":{"orient":"right","values":[0.9,0.92,0.94,0.96],"labels":false,"title":null}}}},
 {"mark":{"type":"line","color":"black","strokeWidth":1.2},"encoding":{"x":{"field":"x","type":"quantitative","axis":{"orient":"bottom","values":[0.1,0.2,0.3,0.4,0.5],"labels":false,"title":null}},"y":{"field":"o","type":"quantitative","axis":{"orient":"left","values":[0.9,0.92,0.94,0.96],"labels":false,"title":null}}}}
],"resolve":{"axis":{"x":"independent","y":"independent"}}},
{"width":115.5,"height":66.2,"transform":[{"filter":"datum.p==41"}],"layer":[
 {"mark":{"type":"line","color":"#f6b4b4","strokeWidth":3},"encoding":{"x":{"field":"x","type":"quantitative","scale":{"domain":[0,0.545]},"axis":{"orient":"top","values":[0.1,0.2,0.3,0.4,0.5],"labels":false,"title":null}},"y":{"field":"f","type":"quantitative","scale":{"domain":[0.88,0.98]},"axis":{"orient":"right","values":[0.9,0.92,0.94,0.96],"labels":false,"title":null}}}},
 {"mark":{"type":"line","color":"black","strokeWidth":1.2},"encoding":{"x":{"field":"x","type":"quantitative","axis":{"orient":"bottom","values":[0.1,0.2,0.3,0.4,0.5],"labels":false,"title":null}},"y":{"field":"o","type":"quantitative","axis":{"orient":"left","values":[0.9,0.92,0.94,0.96],"labels":true,"format":".2f","title":null}}}}
],"resolve":{"axis":{"x":"independent","y":"independent"}}},
{"width":115.5,"height":66.2,"transform":[{"filter":"datum.p==42"}],"layer":[
 {"mark":{"type":"line","color":"#f6b4b4","strokeWidth":3},"encoding":{"x":{"field":"x","type":"quantitative","scale":{"domain":[0,0.545]},"axis":{"orient":"top","values":[0.1,0.2,0.3,0.4,0.5],"labels":false,"title":null}},"y":{"field":"f","type":"quantitative","scale":{"domain":[0.88,0.98]},"axis":{"orient":"right","values":[0.9,0.92,0.94,0.96],"labels":false,"title":null}}}},
 {"mark":{"type":"line","color":"black","strokeWidth":1.2},"encoding":{"x":{"field":"x","type":"quantitative","axis":{"orient":"bottom","values":[0.1,0.2,0.3,0.4,0.5],"labels":false,"title":null}},"y":{"field":"o","type":"quantitative","axis":{"orient":"left","values":[0.9,0.92,0.94,0.96],"labels":false,"title":null}}}}
],"resolve":{"axis":{"x":"independent","y":"independent"}}},
{"width":115.5,"height":66.2,"transform":[{"filter":"datum.p==43"}],"layer":[
 {"mark":{"type":"line","color":"#f6b4b4","strokeWidth":3},"encoding":{"x":{"field":"x","type":"quantitative","scale":{"domain":[0,0.545]},"axis":{"orient":"top","values":[0.1,0.2,0.3,0.4,0.5],"labels":false,"title":null}},"y":{"field":"f","type":"quantitative","scale":{"domain":[0.88,0.98]},"axis":{"orient":"right","values":[0.9,0.92,0.94,0.96],"labels":false,"title":null}}}},
 {"mark":{"type":"line","color":"black","strokeWidth":1.2},"encoding":{"x":{"field":"x","type":"quantitative","axis":{"orient":"bottom","values":[0.1,0.2,0.3,0.4,0.5],"labels":false,"title":null}},"y":{"field":"o","type":"quantitative","axis":{"orient":"left","values":[0.9,0.92,0.94,0.96],"labels":false,"title":null}}}}
],"resolve":{"axis":{"x":"independent","y":"independent"}}},
{"width":115.5,"height":66.2,"transform":[{"filter":"datum.p==44"}],"layer":[
 {"mark":{"type":"line","color":"#f6b4b4","strokeWidth":3},"encoding":{"x":{"field":"x","type":"quantitative","scale":{"domain":[0,0.545]},"axis":{"orient":"top","values":[0.1,0.2,0.3,0.4,0.5],"labels":false,"title":null}},"y":{"field":"f","type":"quantitative","scale":{"domain":[0.88,0.98]},"axis":{"orient":"right","values":[0.9,0.92,0.94,0.96],"labels":false,"title":null}}}},
 {"mark":{"type":"line","color":"black","strokeWidth":1.2},"encoding":{"x":{"field":"x","type":"quantitative","axis":{"orient":"bottom","values":[0.1,0.2,0.3,0.4,0.5],"labels":false,"title":null}},"y":{"field":"o","type":"quantitative","axis":{"orient":"left","values":[0.9,0.92,0.94,0.96],"labels":false,"title":null}}}}
],"resolve":{"axis":{"x":"independent","y":"independent"}}},
{"width":115.5,"height":66.2,"transform":[{"filter":"datum.p==51"}],"layer":[
 {"mark":{"type":"line","color":"#f6b4b4","strokeWidth":3},"encoding":{"x":{"field":"x","type":"quantitative","scale":{"domain":[0,0.545]},"axis":{"orient":"top","values":[0.1,0.2,0.3,0.4,0.5],"labels":false,"title":null}},"y":{"field":"f","type":"quantitative","scale":{"domain":[0.88,0.98]},"axis":{"orient":"right","values":[0.9,0.92,0.94,0.96],"labels":false,"title":null}}}},
 {"mark":{"type":"line","color":"black","strokeWidth":1.2},"encoding":{"x":{"field":"x","type":"quantitative","axis":{"orient":"bottom","values":[0.1,0.2,0.3,0.4,0.5],"labels":true,"format":".1f","title":"Wavelength - 6300 [Å]"}},"y":{"field":"o","type":"quantitative","axis":{"orient":"left","values":[0.9,0.92,0.94,0.96],"labels":true,"format":".2f","title":null}}}}
],"resolve":{"axis":{"x":"independent","y":"independent"}}},
{"width":115.5,"height":66.2,"transform":[{"filter":"datum.p==52"}],"layer":[
 {"mark":{"type":"line","color":"#f6b4b4","strokeWidth":3},"encoding":{"x":{"field":"x","type":"quantitative","scale":{"domain":[0,0.545]},"axis":{"orient":"top","values":[0.1,0.2,0.3,0.4,0.5],"labels":false,"title":null}},"y":{"field":"f","type":"quantitative","scale":{"domain":[0.88,0.98]},"axis":{"orient":"right","values":[0.9,0.92,0.94,0.96],"labels":false,"title":null}}}},
 {"mark":{"type":"line","color":"black","strokeWidth":1.2},"encoding":{"x":{"field":"x","type":"quantitative","axis":{"orient":"bottom","values":[0.1,0.2,0.3,0.4,0.5],"labels":true,"format":".1f","title":"Wavelength - 6300 [Å]"}},"y":{"field":"o","type":"quantitative","axis":{"orient":"left","values":[0.9,0.92,0.94,0.96],"labels":false,"title":null}}}}
],"resolve":{"axis":{"x":"independent","y":"independent"}}},
{"width":115.5,"height":66.2,"transform":[{"filter":"datum.p==53"}],"layer":[
 {"mark":{"type":"line","color":"#f6b4b4","strokeWidth":3},"encoding":{"x":{"field":"x","type":"quantitative","scale":{"domain":[0,0.545]},"axis":{"orient":"top","values":[0.1,0.2,0.3,0.4,0.5],"labels":false,"title":null}},"y":{"field":"f","type":"quantitative","scale":{"domain":[0.88,0.98]},"axis":{"orient":"right","values":[0.9,0.92,0.94,0.96],"labels":false,"title":null}}}},
 {"mark":{"type":"line","color":"black","strokeWidth":1.2},"encoding":{"x":{"field":"x","type":"quantitative","axis":{"orient":"bottom","values":[0.1,0.2,0.3,0.4,0.5],"labels":true,"format":".1f","title":"Wavelength - 6300 [Å]"}},"y":{"field":"o","type":"quantitative","axis":{"orient":"left","values":[0.9,0.92,0.94,0.96],"labels":false,"title":null}}}}
],"resolve":{"axis":{"x":"independent","y":"independent"}}},
{"width":115.5,"height":66.2,"transform":[{"filter":"datum.p==54"}],"layer":[
 {"mark":{"type":"line","color":"#f6b4b4","strokeWidth":3},"encoding":{"x":{"field":"x","type":"quantitative","scale":{"domain":[0,0.545]},"axis":{"orient":"top","values":[0.1,0.2,0.3,0.4,0.5],"labels":false,"title":null}},"y":{"field":"f","type":"quantitative","scale":{"domain":[0.88,0.98]},"axis":{"orient":"right","values":[0.9,0.92,0.94,0.96],"labels":false,"title":null}}}},
 {"mark":{"type":"line","color":"black","strokeWidth":1.2},"encoding":{"x":{"field":"x","type":"quantitative","axis":{"orient":"bottom","values":[0.1,0.2,0.3,0.4,0.5],"labels":true,"format":".1f","title":"Wavelength - 6300 [Å]"}},"y":{"field":"o","type":"quantitative","axis":{"orient":"left","values":[0.9,0.92,0.94,0.96],"labels":false,"title":null}}}}
],"resolve":{"axis":{"x":"independent","y":"independent"}}}
],
"config":{
 "view":{"stroke":"#222222","strokeWidth":1},
 "axis":{"domain":false,"grid":false,"tickSize":-4,"tickColor":"#222222","tickWidth":1,"labelFont":"DejaVu Sans","labelFontSize":8.5,"labelColor":"#000000","labelPadding":7,"titleFont":"DejaVu Sans","titleFontSize":9.5,"titleFontWeight":"normal","titleColor":"#000000"},
 "axisX":{"labelPadding":4,"titlePadding":2}
}
}
